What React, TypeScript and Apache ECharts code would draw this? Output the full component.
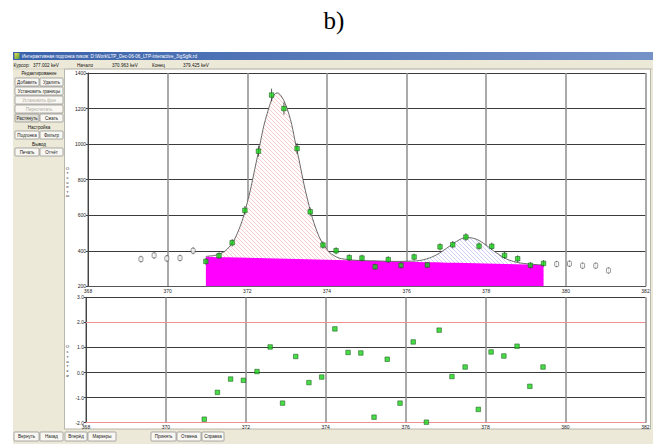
import React, { useEffect, useRef } from 'react';
import * as echarts from 'echarts';

// ---- data ----
const energies = [370.96, 371.29, 371.62, 371.94, 372.28, 372.61, 372.92, 373.25, 373.58, 373.90, 374.23, 374.56, 374.88, 375.21, 375.54, 375.86, 376.19, 376.52, 376.84, 377.16, 377.49, 377.82, 378.14, 378.46, 378.79, 379.11, 379.44];
const counts = [340, 372, 445, 627, 960, 1276, 1200, 975, 619, 432, 400, 361, 359, 310, 350, 318, 365, 320, 422, 434, 477, 426, 425, 374, 355, 318, 329];
const residuals = [-1.86, -0.79, -0.26, -0.31, 0.04, 1.02, -1.22, 0.64, -0.40, -0.18, 1.74, 0.80, 0.78, -1.78, 0.53, -1.22, 1.22, -1.98, 1.69, -0.16, 0.22, -1.47, 0.82, 0.66, 1.05, -0.55, 0.22];

const outLeftE = [369.33, 369.66, 369.98, 370.31, 370.64];
const outLeftC = [353, 374, 357, 359, 400];
const outRightE = [379.77, 380.09, 380.42, 380.75, 381.07];
const outRightC = [325, 327, 316, 316, 289];

const fitE = [370.96, 371.0, 371.25, 371.5, 371.75, 372.0, 372.25, 372.5, 372.75, 373.0, 373.25, 373.5, 373.75, 374.0, 374.25, 374.5, 374.75, 375.0, 375.25, 375.5, 375.75, 376.0, 376.25, 376.5, 376.75, 377.0, 377.25, 377.5, 377.75, 378.0, 378.25, 378.5, 378.75, 379.0, 379.25, 379.44];
const fitC = [368, 369, 378, 410, 498, 671, 924, 1172, 1288, 1200, 963, 700, 509, 407, 364, 351, 346, 344, 343, 341, 340, 341, 343, 354, 377, 413, 452, 474, 465, 431, 389, 355, 336, 327, 322, 320];
const bgC = [366, 366, 364, 363, 362, 360, 359, 358, 356, 355, 354, 352, 351, 350, 348, 347, 346, 344, 343, 341, 340, 339, 337, 336, 335, 333, 332, 331, 329, 328, 327, 325, 324, 323, 321, 320];
const peakSplit = 19; // index of 375.5 keV

const titleText = 'Интерактивная подгонка пиков: D:\\Work\\LTP_Dec-06-06_LTP-interactive_3\\gSgfk.rd';
const infoTexts = [
  { t: 'Курсор:', x: 13.5 }, { t: '377.002 keV', x: 33 },
  { t: 'Начало', x: 77 }, { t: '370.963 keV', x: 112 },
  { t: 'Конец', x: 152 }, { t: '379.425 keV', x: 183 },
];
const leftButtons = [
  { t: 'Добавить', x: 15, y: 78, w: 24 }, { t: 'Удалить', x: 40, y: 78, w: 23 },
  { t: 'Установить границы', x: 15, y: 87, w: 48 },
  { t: 'Установить фон', x: 15, y: 96, w: 48, dis: true },
  { t: 'Пересчитать', x: 15, y: 105, w: 48, dis: true },
  { t: 'Растянуть', x: 15, y: 114, w: 24, pr: true }, { t: 'Сжать', x: 40, y: 114, w: 23 },
  { t: 'Подгонка', x: 15, y: 131, w: 24 }, { t: 'Фильтр', x: 40, y: 131, w: 23 },
  { t: 'Печать', x: 15, y: 148, w: 24 }, { t: 'Отчёт', x: 40, y: 148, w: 23 },
];
const panelLabels = [
  { t: 'Редактирование', y: 73.5 }, { t: 'Настройка', y: 127 }, { t: 'Вывод', y: 144 },
];
const bottomButtons = [
  { t: 'Вернуть', x: 14, w: 25 }, { t: 'Назад', x: 40, w: 23 }, { t: 'Вперёд', x: 65, w: 22 },
  { t: 'Маркеры', x: 88, w: 28 }, { t: 'Принять', x: 151, w: 25 }, { t: 'Отмена', x: 177, w: 24 },
  { t: 'Справка', x: 202, w: 22 },
];

const FF = '"Liberation Sans", Arial, sans-serif';

function hatch(color: string) {
  const c = document.createElement('canvas');
  c.width = 4; c.height = 4;
  const ctx = c.getContext('2d')!;
  ctx.fillStyle = '#ffffff';
  ctx.fillRect(0, 0, 4, 4);
  ctx.strokeStyle = color;
  ctx.lineWidth = 0.7;
  ctx.beginPath();
  ctx.moveTo(0, 0); ctx.lineTo(4, 4);
  ctx.moveTo(-2, 2); ctx.lineTo(2, 6);
  ctx.moveTo(2, -2); ctx.lineTo(6, 2);
  ctx.stroke();
  return c.toDataURL();
}

function txt(x: number, y: number, text: string, size: number, fill: string, align = 'left', extra: any = {}) {
  return {
    type: 'text', x, y, silent: true, z: 20,
    style: { text, fontSize: size, fontFamily: FF, fill, align, verticalAlign: 'middle', textAlign: align, textVerticalAlign: 'middle', ...extra },
  };
}

function button(x: number, y: number, w: number, h: number, label: string, dis = false, pr = false) {
  return {
    type: 'group', x, y, silent: true, z: 20,
    children: [
      { type: 'rect', z: 20, shape: { x: 0, y: 0, width: w, height: h, r: 0.8 }, style: { fill: pr ? '#e2e0d6' : '#f8f7f2', stroke: '#7a7a7a', lineWidth: 0.6 } },
      txt(w / 2, h / 2 + 0.3, label, 4.5, dis ? '#b0ad9f' : '#1a1a1a', 'center'),
    ],
  };
}

export default function App() {
  const ref = useRef<HTMLDivElement>(null);
  useEffect(() => {
    if (!ref.current) return;
    const chart = echarts.init(ref.current, undefined, { renderer: 'svg' });
    const pink = hatch('#f6b4b4');
    const blue = hatch('#b9b9f3');

    const graphics: any[] = [
      txt(334, 20, 'b)', 25, '#000', 'center', { fontFamily: '"Liberation Serif", "Times New Roman", serif' }),
      { type: 'rect', z: -5, silent: true, shape: { x: 13, y: 52, width: 640, height: 392 }, style: { fill: '#ece9d8' } },
      { type: 'rect', z: -4, silent: true, shape: { x: 13, y: 52, width: 640, height: 8 }, style: { fill: { type: 'linear', x: 0, y: 0, x2: 1, y2: 0, colorStops: [{ offset: 0, color: '#3a62ab' }, { offset: 1, color: '#7592c8' }] } } },
      { type: 'rect', z: 20, silent: true, shape: { x: 14.5, y: 53, width: 5, height: 6 }, style: { fill: { type: 'linear', x: 0, y: 0, x2: 1, y2: 1, colorStops: [{ offset: 0, color: '#f4e04a' }, { offset: 1, color: '#4d9a3a' }] } } },
      txt(22, 56.3, titleText, 4.6, '#ffffff'),
      { type: 'rect', z: -4, silent: true, shape: { x: 64.5, y: 69, width: 586, height: 360 }, style: { fill: '#ffffff', stroke: '#a9a69a', lineWidth: 0.8 } },
      { type: 'line', z: -4, silent: true, shape: { x1: 13, y1: 69, x2: 653, y2: 69 }, style: { stroke: '#c8c5b8', lineWidth: 0.6 } },
      txt(67.5, 182, 'О\nт\nс\nч\nе\nт\nы', 4.4, '#222', 'center', { lineHeight: 4.6 }),
      txt(67.5, 361, 'О\nс\nт\nа\nт\nк\nи', 4.4, '#222', 'center', { lineHeight: 4.8 }),
    ];
    infoTexts.forEach((d) => graphics.push(txt(d.x, 65, d.t, 4.6, '#111')));
    panelLabels.forEach((d) => graphics.push(txt(39, d.y, d.t, 4.6, '#111', 'center')));
    leftButtons.forEach((b) => graphics.push(button(b.x, b.y, b.w, 8, b.t, !!b.dis, !!b.pr)));
    bottomButtons.forEach((b) => graphics.push(button(b.x, 432, b.w, 9, b.t)));

    const errBars = (data: number[][], color: string) => ({
      type: 'custom', xAxisIndex: 0, yAxisIndex: 0, silent: true, z: 5,
      data,
      encode: { x: 0, y: 1 },
      renderItem: (_p: any, api: any) => {
        const x = api.value(0);
        const y = api.value(1);
        const e = Math.sqrt(y);
        const p1 = api.coord([x, y - e]);
        const p2 = api.coord([x, y + e]);
        return { type: 'line', shape: { x1: p1[0], y1: p1[1], x2: p2[0], y2: p2[1] }, style: { stroke: color, lineWidth: 0.8 } };
      },
    });

    const pts = energies.map((e, i) => [e, counts[i]]);
    const outPts = [...outLeftE.map((e, i) => [e, outLeftC[i]]), ...outRightE.map((e, i) => [e, outRightC[i]])];
    const fitPts = fitE.map((e, i) => [e, fitC[i]]);
    const bgPts = fitE.map((e, i) => [e, bgC[i]]);

    const lbl = { fontSize: 5, color: '#222', fontFamily: FF, margin: 2 };

    chart.setOption({
      animation: false,
      backgroundColor: '#ffffff',
      graphic: { elements: graphics },
      grid: [
        { left: 88, top: 73, width: 557.5, height: 213.3, containLabel: false },
        { left: 86, top: 297.3, width: 559.3, height: 125.4, containLabel: false },
      ],
      xAxis: [
        {
          type: 'value', gridIndex: 0, min: 368, max: 382, interval: 2,
          axisLine: { show: true, onZero: false, lineStyle: { color: '#555', width: 1 } },
          axisTick: { show: false },
          axisLabel: { ...lbl, formatter: (v: number) => String(v) },
          splitLine: { show: true, lineStyle: { color: '#8e8e8e', width: 1.5 } },
        },
        {
          type: 'value', gridIndex: 1, min: 368, max: 382, interval: 2,
          axisLine: { show: true, onZero: false, lineStyle: { color: '#777', width: 1 } },
          axisTick: { show: false },
          axisLabel: { ...lbl, formatter: (v: number) => String(v) },
          splitLine: { show: true, lineStyle: { color: '#8e8e8e', width: 1.5 } },
        },
      ],
      yAxis: [
        {
          type: 'value', gridIndex: 0, min: 200, max: 1400, interval: 200,
          axisLine: { show: true, onZero: false, lineStyle: { color: '#444', width: 1 } },
          axisTick: { show: true, length: 2, lineStyle: { color: '#444' } },
          axisLabel: { ...lbl, formatter: (v: number) => String(v) },
          splitLine: { show: true, lineStyle: { color: '#3c3c3c', width: 1 } },
        },
        {
          type: 'value', gridIndex: 1, min: -2, max: 3, interval: 1,
          axisLine: { show: true, onZero: false, lineStyle: { color: '#444', width: 1 } },
          axisTick: { show: true, length: 2, lineStyle: { color: '#444' } },
          axisLabel: { ...lbl, formatter: (v: number) => v.toFixed(1) },
          splitLine: { show: true, lineStyle: { color: '#3c3c3c', width: 1 } },
        },
      ],
      series: [
        {
          type: 'line', xAxisIndex: 0, yAxisIndex: 0, silent: true, z: 2,
          data: fitPts.slice(0, peakSplit + 1), smooth: 0.4, showSymbol: false, symbol: 'none',
          lineStyle: { width: 0 },
          areaStyle: { origin: 'start', opacity: 1, color: { image: pink, repeat: 'repeat', imageWidth: 4, imageHeight: 4 } },
        },
        {
          type: 'line', xAxisIndex: 0, yAxisIndex: 0, silent: true, z: 2,
          data: fitPts.slice(peakSplit), smooth: 0.4, showSymbol: false, symbol: 'none',
          lineStyle: { width: 0 },
          areaStyle: { origin: 'start', opacity: 1, color: { image: blue, repeat: 'repeat', imageWidth: 4, imageHeight: 4 } },
        },
        {
          type: 'line', xAxisIndex: 0, yAxisIndex: 0, silent: true, z: 3,
          data: bgPts, showSymbol: false, symbol: 'none',
          lineStyle: { width: 0 },
          areaStyle: { origin: 'start', opacity: 1, color: '#ff00ff' },
        },
        {
          type: 'line', xAxisIndex: 0, yAxisIndex: 0, silent: true, z: 4,
          data: fitPts, smooth: 0.4, showSymbol: false, symbol: 'none',
          lineStyle: { width: 0.9, color: '#5a5a5a' },
        },
        errBars(pts, '#333'),
        errBars(outPts, '#444'),
        {
          type: 'scatter', xAxisIndex: 0, yAxisIndex: 0, silent: true, z: 6,
          data: pts, symbol: 'rect', symbolSize: 4.5,
          itemStyle: { color: '#19d419', borderColor: '#1f5a1f', borderWidth: 0.7 },
        },
        {
          type: 'scatter', xAxisIndex: 0, yAxisIndex: 0, silent: true, z: 6,
          data: outPts, symbol: 'roundRect', symbolSize: [4, 5],
          itemStyle: { color: '#ffffff', borderColor: '#444', borderWidth: 0.7 },
        },
        {
          type: 'scatter', xAxisIndex: 1, yAxisIndex: 1, silent: true, z: 6,
          data: energies.map((e, i) => [e, residuals[i]]), symbol: 'rect', symbolSize: 4.5,
          itemStyle: { color: '#19d419', borderColor: '#1f5a1f', borderWidth: 0.7 },
          markLine: {
            silent: true, symbol: ['none', 'none'], label: { show: false },
            lineStyle: { color: '#f09090', width: 1, type: 'solid' },
            data: [{ yAxis: 2 }, { yAxis: -2 }],
          },
        },
      ],
    });
    return () => chart.dispose();
  }, []);
  return <div ref={ref} style={{ position: 'fixed', left: 0, top: 0, width: 669, height: 444 }} />;
}
